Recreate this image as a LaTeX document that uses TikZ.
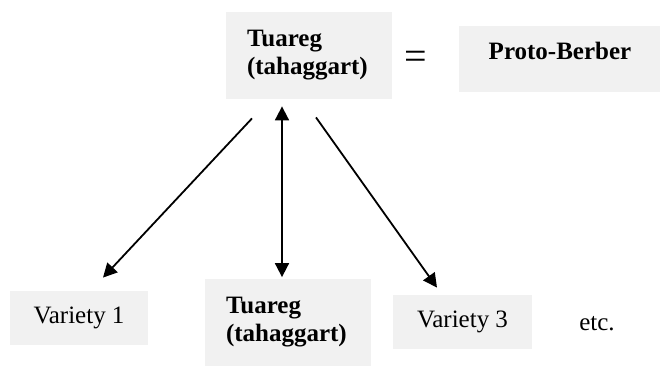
\documentclass[tikz,border=0pt]{standalone}
\usepackage{fontspec}
\setmainfont{Liberation Serif}
\usetikzlibrary{arrows.meta}
\definecolor{boxgray}{HTML}{F1F1F1}
\begin{document}
\begin{tikzpicture}[x=0.5pt,y=-0.5pt,
  box/.style={fill=boxgray,inner sep=0pt,font=\fontsize{12.5}{14}\selectfont},
  boldbox/.style={box,font=\fontsize{12.5}{14}\selectfont\bfseries,text width=62pt,align=left,minimum width=83pt,minimum height=43.5pt},
  arr/.style={line width=0.9pt,-{Triangle[length=7pt,width=7pt]}}]
\useasboundingbox (0,0) rectangle (660,365);
%top row
\node[boldbox] (tuareg) at (309,55.5) {Tuareg\\(tahaggart)};
\node[font=\fontsize{20}{20}\selectfont] (eq) at (416,60) {=};
\node[box,font=\fontsize{12.5}{14}\selectfont\bfseries,minimum width=101.5pt,minimum height=33pt,text height=6pt,text depth=6pt] (proto) at (560,59) {Proto-Berber};
%bottom row
\node[box,minimum width=69pt,minimum height=27pt] (var1) at (79,318) {Variety 1};
\node[boldbox] (tuaregb) at (288,322) {Tuareg\\(tahaggart)};
\node[box,minimum width=69.5pt,minimum height=27pt] (var3) at (462.5,322) {Variety 3};
\node[font=\fontsize{12.5}{14}\selectfont,anchor=base] (etc) at (597,330) {etc.};
%arrows
\draw[arr] ([xshift=-28.5pt,yshift=-9.5pt]tuareg.south) -- ([xshift=12pt,yshift=6.5pt]var1.north);
\draw[arr,{Triangle[length=7pt,width=7pt]}-{Triangle[length=7pt,width=7pt]}] ([xshift=-13.5pt,yshift=-3.5pt]tuareg.south) -- ([xshift=-3pt,yshift=0.5pt]tuaregb.north);
\draw[arr] ([xshift=3.5pt,yshift=-9pt]tuareg.south) -- ([xshift=-12.75pt,yshift=3.5pt]var3.north);
\end{tikzpicture}
\end{document}
